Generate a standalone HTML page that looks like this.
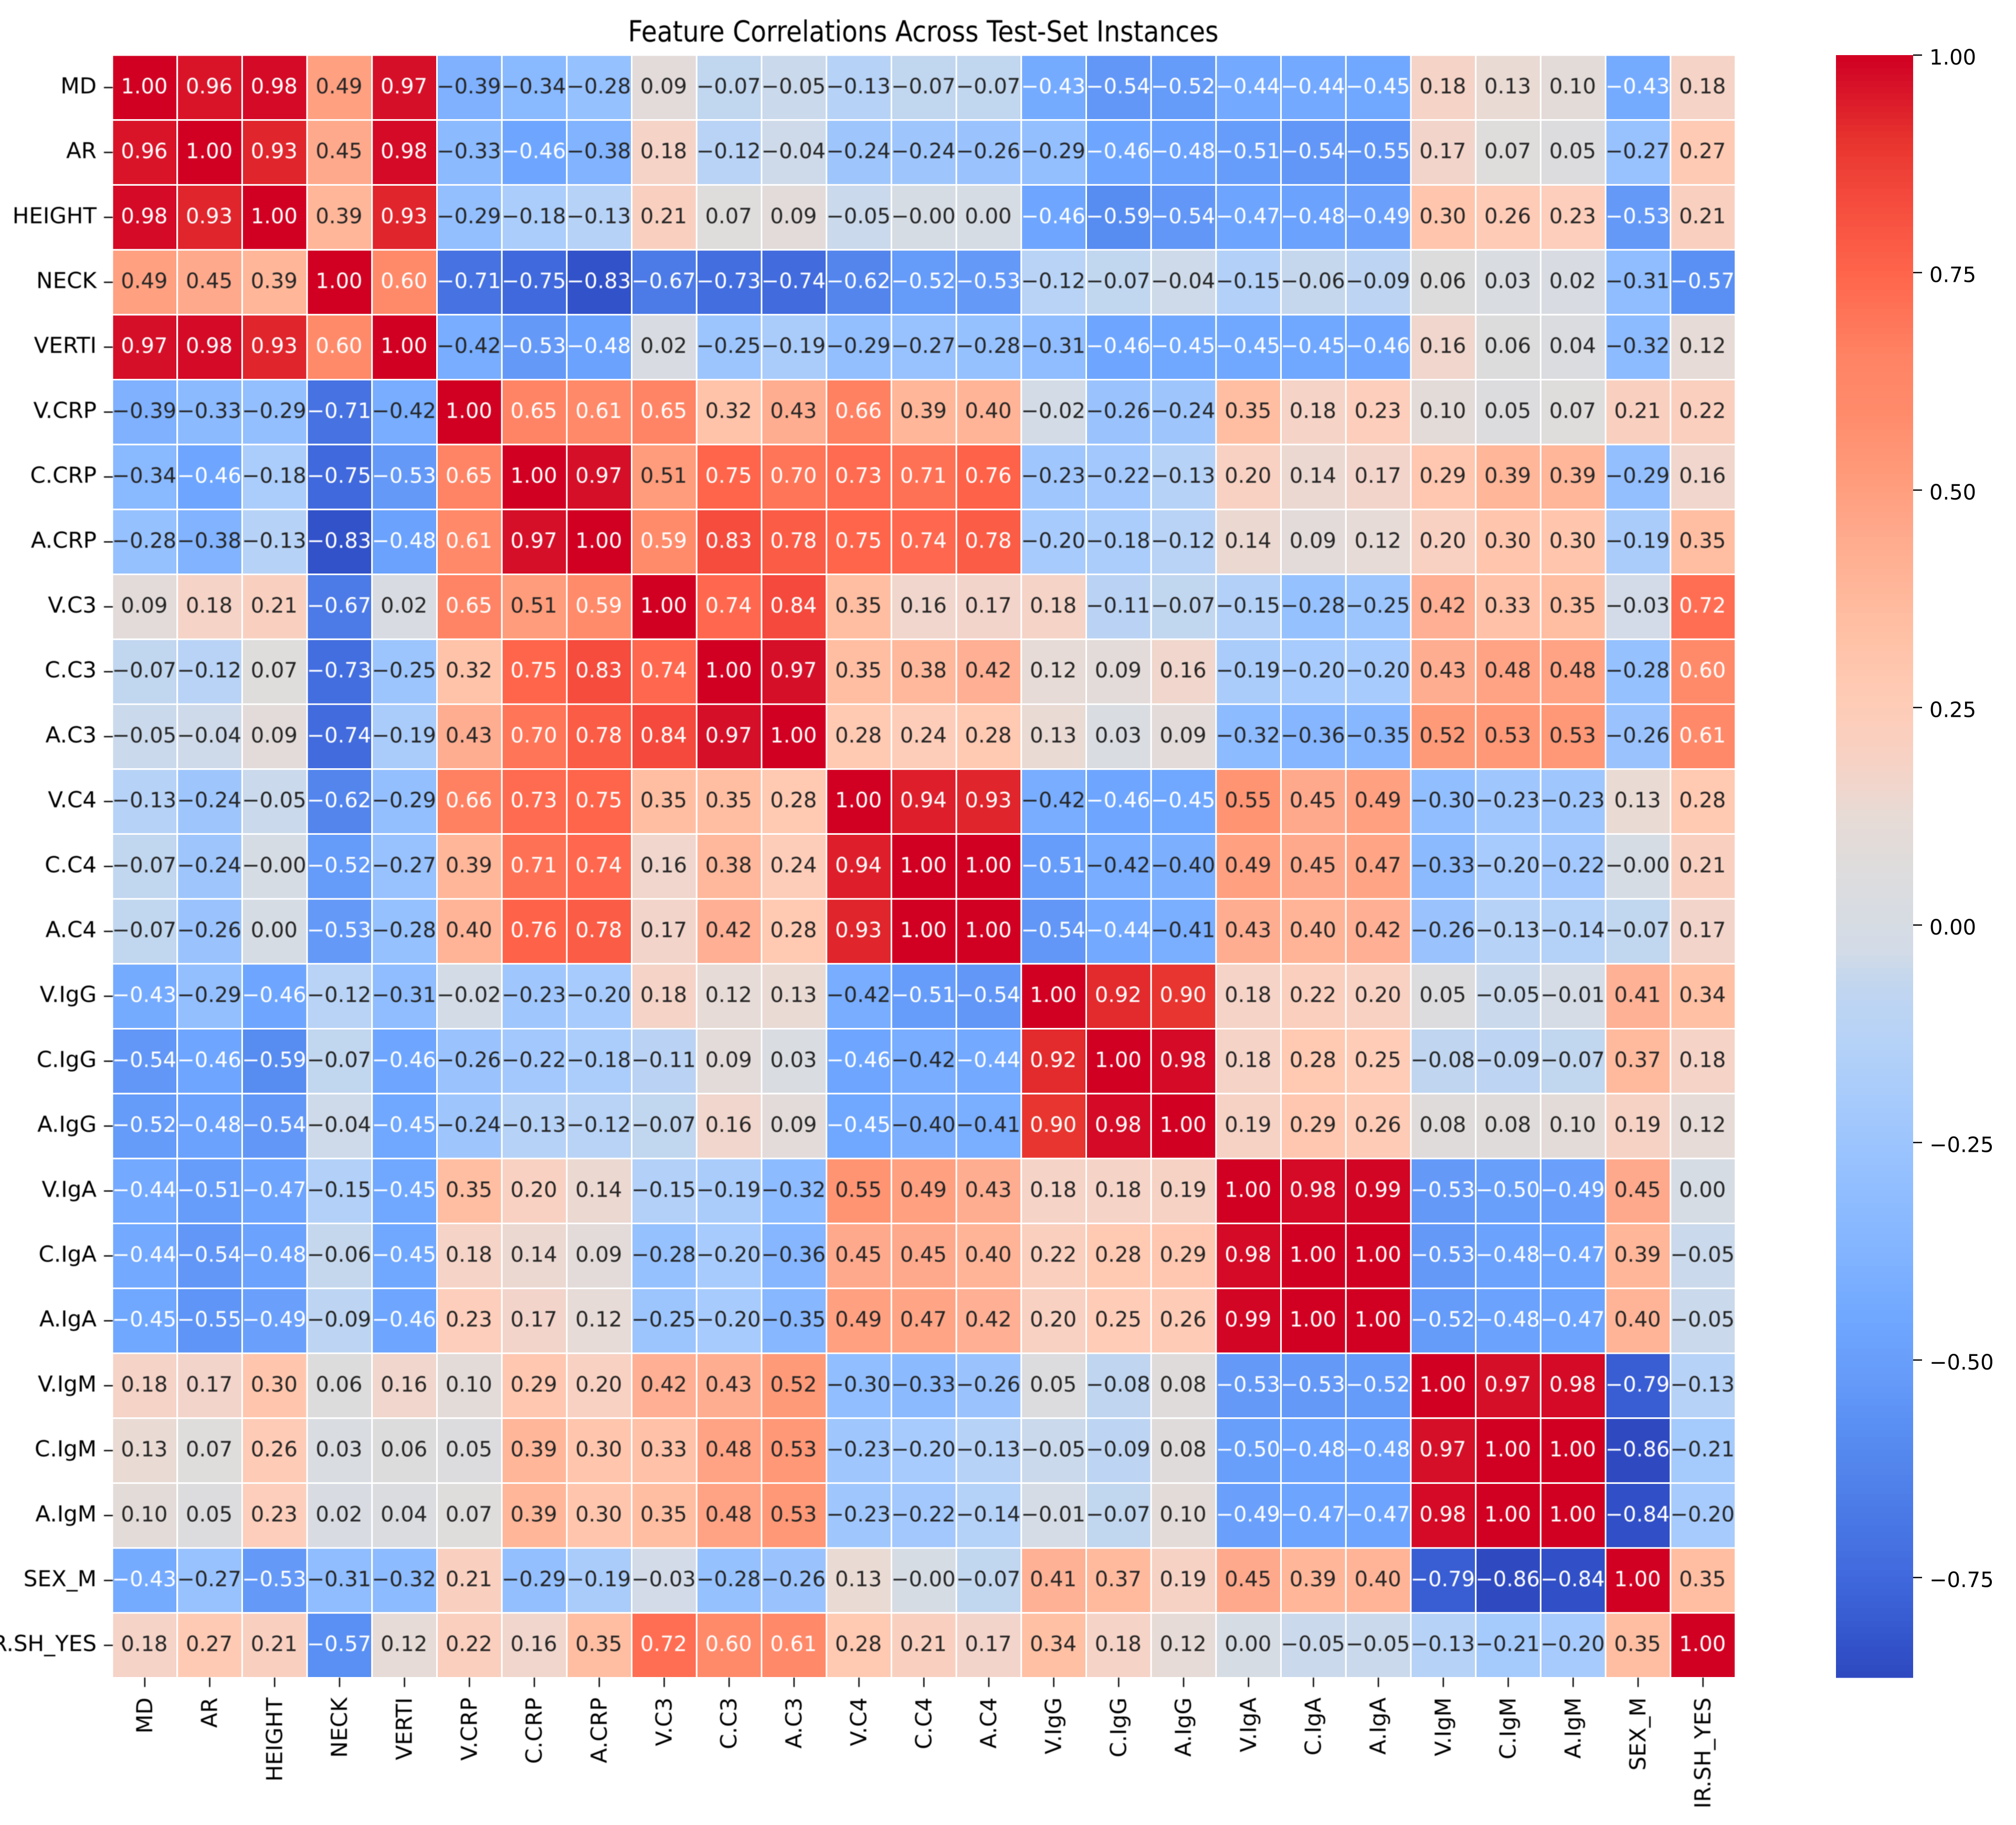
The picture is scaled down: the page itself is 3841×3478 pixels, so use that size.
<!DOCTYPE html>
<html lang="en">
<head>
<meta charset="utf-8">
<title>Feature Correlations Across Test-Set Instances</title>
<style>
html,body{margin:0;padding:0;background:#fff;width:3841px;height:3478px;overflow:hidden}
svg{display:block;font-family:"DejaVu Sans","Liberation Sans",sans-serif}
#title,#annotations,#y-axis,#x-axis{filter:blur(0.7px)}
</style>
</head>
<body>
<svg id="chart" xmlns="http://www.w3.org/2000/svg" width="3841" height="3478" viewBox="0 0 3841 3478">
  <rect x="0" y="0" width="3841" height="3478" fill="#ffffff"/>
  <text id="title" x="1759" y="79" font-size="55" textLength="1125" lengthAdjust="spacingAndGlyphs" text-anchor="middle" fill="#000000">Feature Correlations Across Test-Set Instances</text>
  <g id="cells"></g>
  <g id="annotations"></g>
  <g id="y-axis"></g>
  <g id="x-axis"></g>
  <g id="colorbar"></g>
</svg>
<script>
const featureLabels = ["MD","AR","HEIGHT","NECK","VERTI","V.CRP","C.CRP","A.CRP","V.C3","C.C3","A.C3","V.C4","C.C4","A.C4","V.IgG","C.IgG","A.IgG","V.IgA","C.IgA","A.IgA","V.IgM","C.IgM","A.IgM","SEX_M","IR.SH_YES"];
const correlationValues = [
[1.00,0.96,0.98,0.49,0.97,-0.39,-0.34,-0.28,0.09,-0.07,-0.05,-0.13,-0.07,-0.07,-0.43,-0.54,-0.52,-0.44,-0.44,-0.45,0.18,0.13,0.10,-0.43,0.18],
[0.96,1.00,0.93,0.45,0.98,-0.33,-0.46,-0.38,0.18,-0.12,-0.04,-0.24,-0.24,-0.26,-0.29,-0.46,-0.48,-0.51,-0.54,-0.55,0.17,0.07,0.05,-0.27,0.27],
[0.98,0.93,1.00,0.39,0.93,-0.29,-0.18,-0.13,0.21,0.07,0.09,-0.05,-0.001,0.001,-0.46,-0.59,-0.54,-0.47,-0.48,-0.49,0.30,0.26,0.23,-0.53,0.21],
[0.49,0.45,0.39,1.00,0.60,-0.71,-0.75,-0.83,-0.67,-0.73,-0.74,-0.62,-0.52,-0.53,-0.12,-0.07,-0.04,-0.15,-0.06,-0.09,0.06,0.03,0.02,-0.31,-0.57],
[0.97,0.98,0.93,0.60,1.00,-0.42,-0.53,-0.48,0.02,-0.25,-0.19,-0.29,-0.27,-0.28,-0.31,-0.46,-0.45,-0.45,-0.45,-0.46,0.16,0.06,0.04,-0.32,0.12],
[-0.39,-0.33,-0.29,-0.71,-0.42,1.00,0.65,0.61,0.65,0.32,0.43,0.66,0.39,0.40,-0.02,-0.26,-0.24,0.35,0.18,0.23,0.10,0.05,0.07,0.21,0.22],
[-0.34,-0.46,-0.18,-0.75,-0.53,0.65,1.00,0.97,0.51,0.75,0.70,0.73,0.71,0.76,-0.23,-0.22,-0.13,0.20,0.14,0.17,0.29,0.39,0.39,-0.29,0.16],
[-0.28,-0.38,-0.13,-0.83,-0.48,0.61,0.97,1.00,0.59,0.83,0.78,0.75,0.74,0.78,-0.20,-0.18,-0.12,0.14,0.09,0.12,0.20,0.30,0.30,-0.19,0.35],
[0.09,0.18,0.21,-0.67,0.02,0.65,0.51,0.59,1.00,0.74,0.84,0.35,0.16,0.17,0.18,-0.11,-0.07,-0.15,-0.28,-0.25,0.42,0.33,0.35,-0.03,0.72],
[-0.07,-0.12,0.07,-0.73,-0.25,0.32,0.75,0.83,0.74,1.00,0.97,0.35,0.38,0.42,0.12,0.09,0.16,-0.19,-0.20,-0.20,0.43,0.48,0.48,-0.28,0.60],
[-0.05,-0.04,0.09,-0.74,-0.19,0.43,0.70,0.78,0.84,0.97,1.00,0.28,0.24,0.28,0.13,0.03,0.09,-0.32,-0.36,-0.35,0.52,0.53,0.53,-0.26,0.61],
[-0.13,-0.24,-0.05,-0.62,-0.29,0.66,0.73,0.75,0.35,0.35,0.28,1.00,0.94,0.93,-0.42,-0.46,-0.45,0.55,0.45,0.49,-0.30,-0.23,-0.23,0.13,0.28],
[-0.07,-0.24,-0.001,-0.52,-0.27,0.39,0.71,0.74,0.16,0.38,0.24,0.94,1.00,1.00,-0.51,-0.42,-0.40,0.49,0.45,0.47,-0.33,-0.20,-0.22,-0.001,0.21],
[-0.07,-0.26,0.001,-0.53,-0.28,0.40,0.76,0.78,0.17,0.42,0.28,0.93,1.00,1.00,-0.54,-0.44,-0.41,0.43,0.40,0.42,-0.26,-0.13,-0.14,-0.07,0.17],
[-0.43,-0.29,-0.46,-0.12,-0.31,-0.02,-0.23,-0.20,0.18,0.12,0.13,-0.42,-0.51,-0.54,1.00,0.92,0.90,0.18,0.22,0.20,0.05,-0.05,-0.01,0.41,0.34],
[-0.54,-0.46,-0.59,-0.07,-0.46,-0.26,-0.22,-0.18,-0.11,0.09,0.03,-0.46,-0.42,-0.44,0.92,1.00,0.98,0.18,0.28,0.25,-0.08,-0.09,-0.07,0.37,0.18],
[-0.52,-0.48,-0.54,-0.04,-0.45,-0.24,-0.13,-0.12,-0.07,0.16,0.09,-0.45,-0.40,-0.41,0.90,0.98,1.00,0.19,0.29,0.26,0.08,0.08,0.10,0.19,0.12],
[-0.44,-0.51,-0.47,-0.15,-0.45,0.35,0.20,0.14,-0.15,-0.19,-0.32,0.55,0.49,0.43,0.18,0.18,0.19,1.00,0.98,0.99,-0.53,-0.50,-0.49,0.45,0.001],
[-0.44,-0.54,-0.48,-0.06,-0.45,0.18,0.14,0.09,-0.28,-0.20,-0.36,0.45,0.45,0.40,0.22,0.28,0.29,0.98,1.00,1.00,-0.53,-0.48,-0.47,0.39,-0.05],
[-0.45,-0.55,-0.49,-0.09,-0.46,0.23,0.17,0.12,-0.25,-0.20,-0.35,0.49,0.47,0.42,0.20,0.25,0.26,0.99,1.00,1.00,-0.52,-0.48,-0.47,0.40,-0.05],
[0.18,0.17,0.30,0.06,0.16,0.10,0.29,0.20,0.42,0.43,0.52,-0.30,-0.33,-0.26,0.05,-0.08,0.08,-0.53,-0.53,-0.52,1.00,0.97,0.98,-0.79,-0.13],
[0.13,0.07,0.26,0.03,0.06,0.05,0.39,0.30,0.33,0.48,0.53,-0.23,-0.20,-0.13,-0.05,-0.09,0.08,-0.50,-0.48,-0.48,0.97,1.00,1.00,-0.86,-0.21],
[0.10,0.05,0.23,0.02,0.04,0.07,0.39,0.30,0.35,0.48,0.53,-0.23,-0.22,-0.14,-0.01,-0.07,0.10,-0.49,-0.47,-0.47,0.98,1.00,1.00,-0.84,-0.20],
[-0.43,-0.27,-0.53,-0.31,-0.32,0.21,-0.29,-0.19,-0.03,-0.28,-0.26,0.13,-0.001,-0.07,0.41,0.37,0.19,0.45,0.39,0.40,-0.79,-0.86,-0.84,1.00,0.35],
[0.18,0.27,0.21,-0.57,0.12,0.22,0.16,0.35,0.72,0.60,0.61,0.28,0.21,0.17,0.34,0.18,0.12,0.001,-0.05,-0.05,-0.13,-0.21,-0.20,0.35,1.00]
];
const colorbarTicks = [1.00,0.75,0.50,0.25,0.00,-0.25,-0.50,-0.75];
const colorStopValues = [-0.865,-0.83,-0.75,-0.71,-0.57,-0.53,-0.46,-0.38,-0.30,-0.20,-0.13,-0.07,-0.03,0.00,0.03,0.12,0.18,0.24,0.28,0.35,0.45,0.51,0.59,0.65,0.75,0.84,0.90,0.97,1.00];
const colorStopHex = ["#2f49c0","#3252c9","#4069dd","#4672e2","#5a90f3","#6499f8","#6ea6ff","#81b3ff","#91beff","#a7cbfc","#b6d2f7","#c1d6ef","#d2dbe7","#d6dce4","#d9dce1","#e6dbd6","#f5d3c7","#fdcdb9","#ffc9b2","#ffbea2","#ffa98c","#ff9c7b","#ff8b6b","#ff8465","#ff654b","#f4493c","#e8352f","#d60f28","#d10022"];

const NS = "http://www.w3.org/2000/svg";
const VMIN = -0.865, VMAX = 1;
const gridLeft = 214, gridTop = 105, cellSize = 123.7;
const barLeft = 3498, barRight = 3645, barTop = 105, barBottom = 3197;

function xScale(i){ return gridLeft + i * cellSize; }
function yScale(i){ return gridTop + i * cellSize; }
function barScale(v){ return barTop + (VMAX - v) / (VMAX - VMIN) * (barBottom - barTop); }

function hexToRgb(h){ return [parseInt(h.slice(1,3),16),parseInt(h.slice(3,5),16),parseInt(h.slice(5,7),16)]; }
function colorFor(v){
  const t = Math.max(VMIN, Math.min(VMAX, v));
  let i = 0;
  while (i < colorStopValues.length - 2 && t > colorStopValues[i + 1]) i++;
  const f = (t - colorStopValues[i]) / (colorStopValues[i + 1] - colorStopValues[i]);
  const a = hexToRgb(colorStopHex[i]), b = hexToRgb(colorStopHex[i + 1]);
  return "rgb(" + a.map((c, k) => Math.round(c + (b[k] - c) * f)).join(",") + ")";
}
function fmt(v){ return v.toFixed(2).replace("-", "\u2212"); }
function make(tag, attrs, text){
  const e = document.createElementNS(NS, tag);
  for (const k in attrs) e.setAttribute(k, attrs[k]);
  if (text !== undefined) e.textContent = text;
  return e;
}

const cellsG = document.getElementById("cells");
const annG = document.getElementById("annotations");
const yG = document.getElementById("y-axis");
const xG = document.getElementById("x-axis");
const cbG = document.getElementById("colorbar");

correlationValues.forEach((row, r) => {
  row.forEach((v, c) => {
    const cell = make("rect", {x: xScale(c), y: yScale(r), width: cellSize, height: cellSize, fill: colorFor(v), stroke: "#ffffff", "stroke-width": 3});
    
    
    cellsG.appendChild(cell);
    const light = v <= -0.425 || v >= 0.57;
    const label = make("text", {x: xScale(c) + cellSize / 2 - 1, y: yScale(r) + cellSize / 2 + 11, "font-size": 40, "text-anchor": "middle", fill: light ? "#ffffff" : "#262626"}, fmt(v));
    
    
    annG.appendChild(label);
  });
});

featureLabels.forEach((name, i) => {
  const cy = yScale(i) + cellSize / 2;
  const cx = xScale(i) + cellSize / 2;
  const yTick = make("line", {x1: 198, x2: 215, y1: cy, y2: cy, stroke: "#000000", "stroke-width": 2.5});
  
  
  yG.appendChild(yTick);
  const yLabel = make("text", {x: 184, y: cy + 11, "font-size": 42, "text-anchor": "end", fill: "#000000"}, name);
  
  
  yG.appendChild(yLabel);
  const xTick = make("line", {x1: cx, x2: cx, y1: 3197, y2: 3215, stroke: "#000000", "stroke-width": 2.5});
  
  
  xG.appendChild(xTick);
  const bx = cx + 14, by = 3235;
  const xLabel = make("text", {x: bx, y: by, "font-size": 42, "text-anchor": "end", fill: "#000000", transform: "rotate(-90 " + bx + " " + by + ")"}, name);
  
  
  xG.appendChild(xLabel);
});

const colorbarSteps = 256;
for (let i = 0; i < colorbarSteps; i++) {
  const v0 = VMIN + (VMAX - VMIN) * i / colorbarSteps;
  const v1 = VMIN + (VMAX - VMIN) * (i + 1) / colorbarSteps;
  const seg = make("rect", {x: barLeft, y: barScale(v1), width: barRight - barLeft, height: barScale(v0) - barScale(v1) + 0.6, fill: colorFor((v0 + v1) / 2)});
  
  
  cbG.appendChild(seg);
}
colorbarTicks.forEach(v => {
  const ty = barScale(v);
  const tick = make("line", {x1: barRight, x2: 3662, y1: ty, y2: ty, stroke: "#000000", "stroke-width": 2.5});
  
  
  cbG.appendChild(tick);
  const label = make("text", {x: 3676, y: ty + 18, "font-size": 40, fill: "#000000"}, fmt(v));
  
  
  cbG.appendChild(label);
});
</script>
</body>
</html>
